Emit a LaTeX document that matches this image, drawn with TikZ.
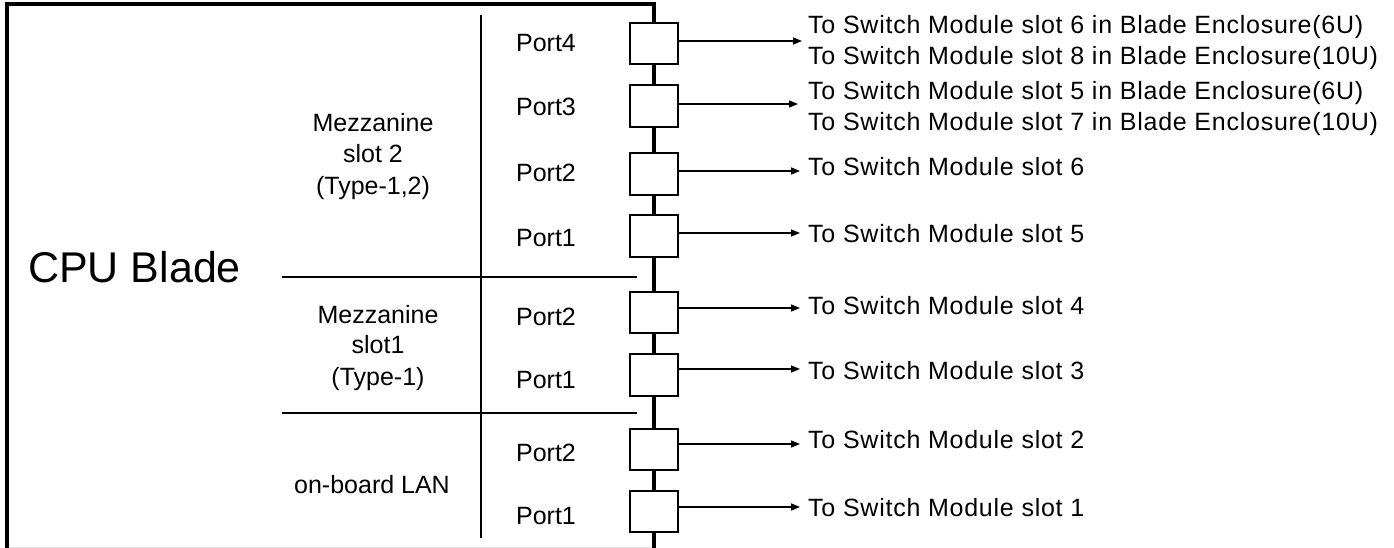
\documentclass[tikz,border=0pt]{standalone}
\usepackage{fontspec}
\setmainfont{Liberation Sans}
\newfontfamily\rfont{Liberation Sans}[LetterSpace=3]
\usetikzlibrary{arrows.meta}
\begin{document}
\begin{tikzpicture}[x=1pt,y=-1pt,
  frame/.style={line width=3.2pt,line join=miter},
  portbox/.style={draw,line width=2pt,fill=white,minimum width=48pt,minimum height=41.5pt,inner sep=0pt},
  divider/.style={line width=1.5pt},
  arr/.style={line width=1.5pt,-{Triangle[length=9pt,width=7pt]}},
  rlbl/.style={anchor=base west,inner sep=0pt,font=\rfont\fontsize{25}{30}\selectfont},
  llbl/.style={anchor=base,inner sep=0pt,font=\fontsize{25}{30}\selectfont},
  big/.style={anchor=base west,inner sep=0pt,font=\fontsize{43}{50}\selectfont}]
\useasboundingbox (0,0) rectangle (1394,548);
% faint bottom edge
\draw[black!12,line width=1pt] (7,547.5) -- (654,547.5);
% frame and bus
\draw[frame] (7,548) -- (7,4) -- (654,4) -- (654,548);
% dividers
\draw[divider] (481,15) -- (481,538);
\draw[divider] (282,277) -- (637,277);
\draw[divider] (282,413) -- (637,413);
% port boxes
\node[portbox] (b1) at (654,43.5) {};
\node[portbox] (b2) at (654,106) {};
\node[portbox] (b3) at (654,174) {};
\node[portbox] (b4) at (654,236) {};
\node[portbox] (b5) at (654,312.5) {};
\node[portbox] (b6) at (654,375) {};
\node[portbox] (b7) at (654,449.5) {};
\node[portbox] (b8) at (654,511.5) {};
% CPU Blade
\node[big] (cpu) at (28,282) {CPU Blade};
% group labels
\node[llbl] (m2a) at (373,132) {Mezzanine};
\node[llbl] (m2b) at (373,162.5) {slot 2};
\node[llbl] (m2c) at (373,194) {(Type-1,2)};
\node[llbl] (m1a) at (378,323) {Mezzanine};
\node[llbl] (m1b) at (378,353.5) {slot1};
\node[llbl] (m1c) at (378,385) {(Type-1)};
\node[llbl] (lan) at (372,493) {on-board LAN};
% port labels
\node[llbl] (p4) at (546,51.5) {Port4};
\node[llbl] (p3) at (546,115.5) {Port3};
\node[llbl] (p2a) at (546,181.5) {Port2};
\node[llbl] (p1a) at (546,246.5) {Port1};
\node[llbl] (p2b) at (546,325) {Port2};
\node[llbl] (p1b) at (546,388) {Port1};
\node[llbl] (p2c) at (546,461.5) {Port2};
\node[llbl] (p1c) at (546,524.5) {Port1};
% right labels
\node[rlbl] (r1a) at (808,34) {To Switch Module slot 6 in Blade Enclosure(6U)};
\node[rlbl] (r1b) at (808,65) {To Switch Module slot 8 in Blade Enclosure(10U)};
\node[rlbl] (r2a) at (808,100) {To Switch Module slot 5 in Blade Enclosure(6U)};
\node[rlbl] (r2b) at (808,131) {To Switch Module slot 7 in Blade Enclosure(10U)};
\node[rlbl] (r3) at (808,176) {To Switch Module slot 6};
\node[rlbl] (r4) at (808,242.5) {To Switch Module slot 5};
\node[rlbl] (r5) at (808,314) {To Switch Module slot 4};
\node[rlbl] (r6) at (808,379) {To Switch Module slot 3};
\node[rlbl] (r7) at (808,448.5) {To Switch Module slot 2};
\node[rlbl] (r8) at (808,516) {To Switch Module slot 1};
% arrow tips
\coordinate (t1) at (802,41);
\coordinate (t2) at (798,104);
\coordinate (t3) at (800,171);
\coordinate (t4) at (800,233);
\coordinate (t5) at (800,308);
\coordinate (t6) at (800,369);
\coordinate (t7) at (800,444);
\coordinate (t8) at (800,507);
\foreach \i in {1,...,8} \draw[arr] (b\i.east |- t\i) -- (t\i);
\end{tikzpicture}
\end{document}
